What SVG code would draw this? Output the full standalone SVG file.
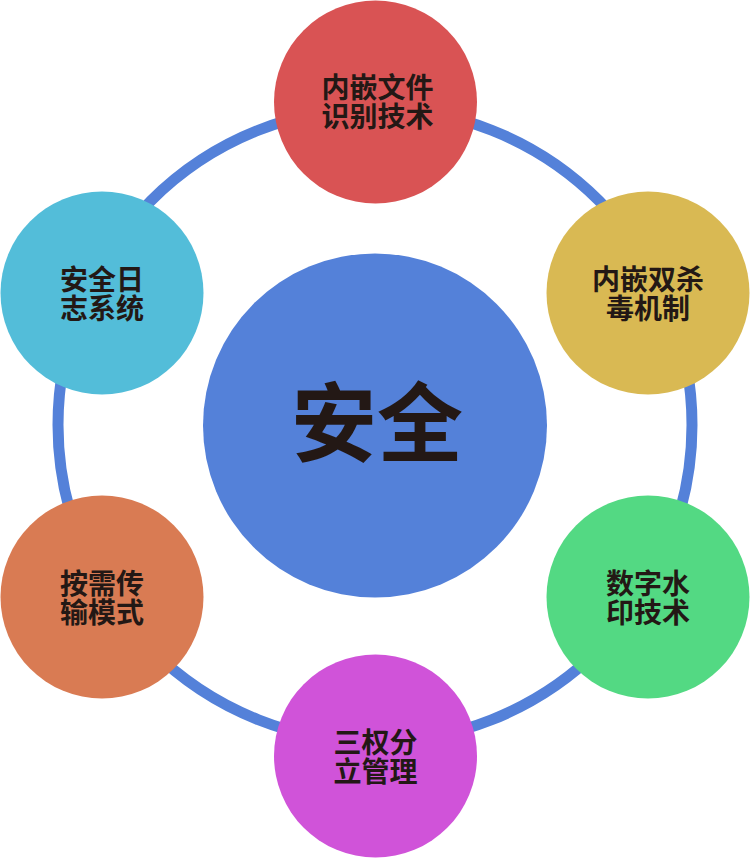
<svg xmlns="http://www.w3.org/2000/svg" width="750" height="858" viewBox="0 0 750 858">
<style>
.lbl{font-family:"Noto Sans CJK SC","Noto Sans CJK JP",sans-serif;font-weight:bold;font-size:28px;fill:#231815;text-anchor:middle}
.big{font-family:"Noto Sans CJK SC","Noto Sans CJK JP",sans-serif;font-weight:bold;font-size:86px;fill:#231815;text-anchor:middle}
</style>
<rect width="750" height="858" fill="#ffffff"/>
<g id="connectors">
<circle cx="375" cy="425" r="317" fill="none" stroke="#5481D9" stroke-width="11"/>
</g>
<g id="center">
<circle cx="375" cy="425.5" r="172" fill="#5481D9"/>
<text class="big" x="377" y="455">安全</text>
</g>
<g id="n-top">
<circle cx="375.5" cy="102" r="101.5" fill="#D95354"/>
<text class="lbl" x="377.5" y="98">内嵌文件</text>
<text class="lbl" x="377.5" y="127">识别技术</text>
</g>
<g id="n-upper-right">
<circle cx="648" cy="293" r="101.5" fill="#D9B953"/>
<text class="lbl" x="648" y="290">内嵌双杀</text>
<text class="lbl" x="648" y="319">毒机制</text>
</g>
<g id="n-lower-right">
<circle cx="648" cy="597" r="101.5" fill="#53D983"/>
<text class="lbl" x="648" y="594">数字水</text>
<text class="lbl" x="648" y="623">印技术</text>
</g>
<g id="n-bottom">
<circle cx="375.5" cy="756" r="101.5" fill="#D053D9"/>
<text class="lbl" x="375.5" y="753">三权分</text>
<text class="lbl" x="375.5" y="782">立管理</text>
</g>
<g id="n-lower-left">
<circle cx="102" cy="597" r="101.5" fill="#D97B53"/>
<text class="lbl" x="102" y="594">按需传</text>
<text class="lbl" x="102" y="623">输模式</text>
</g>
<g id="n-upper-left">
<circle cx="102" cy="293" r="101.5" fill="#53BDD9"/>
<text class="lbl" x="102" y="290">安全日</text>
<text class="lbl" x="102" y="319">志系统</text>
</g>
</svg>
